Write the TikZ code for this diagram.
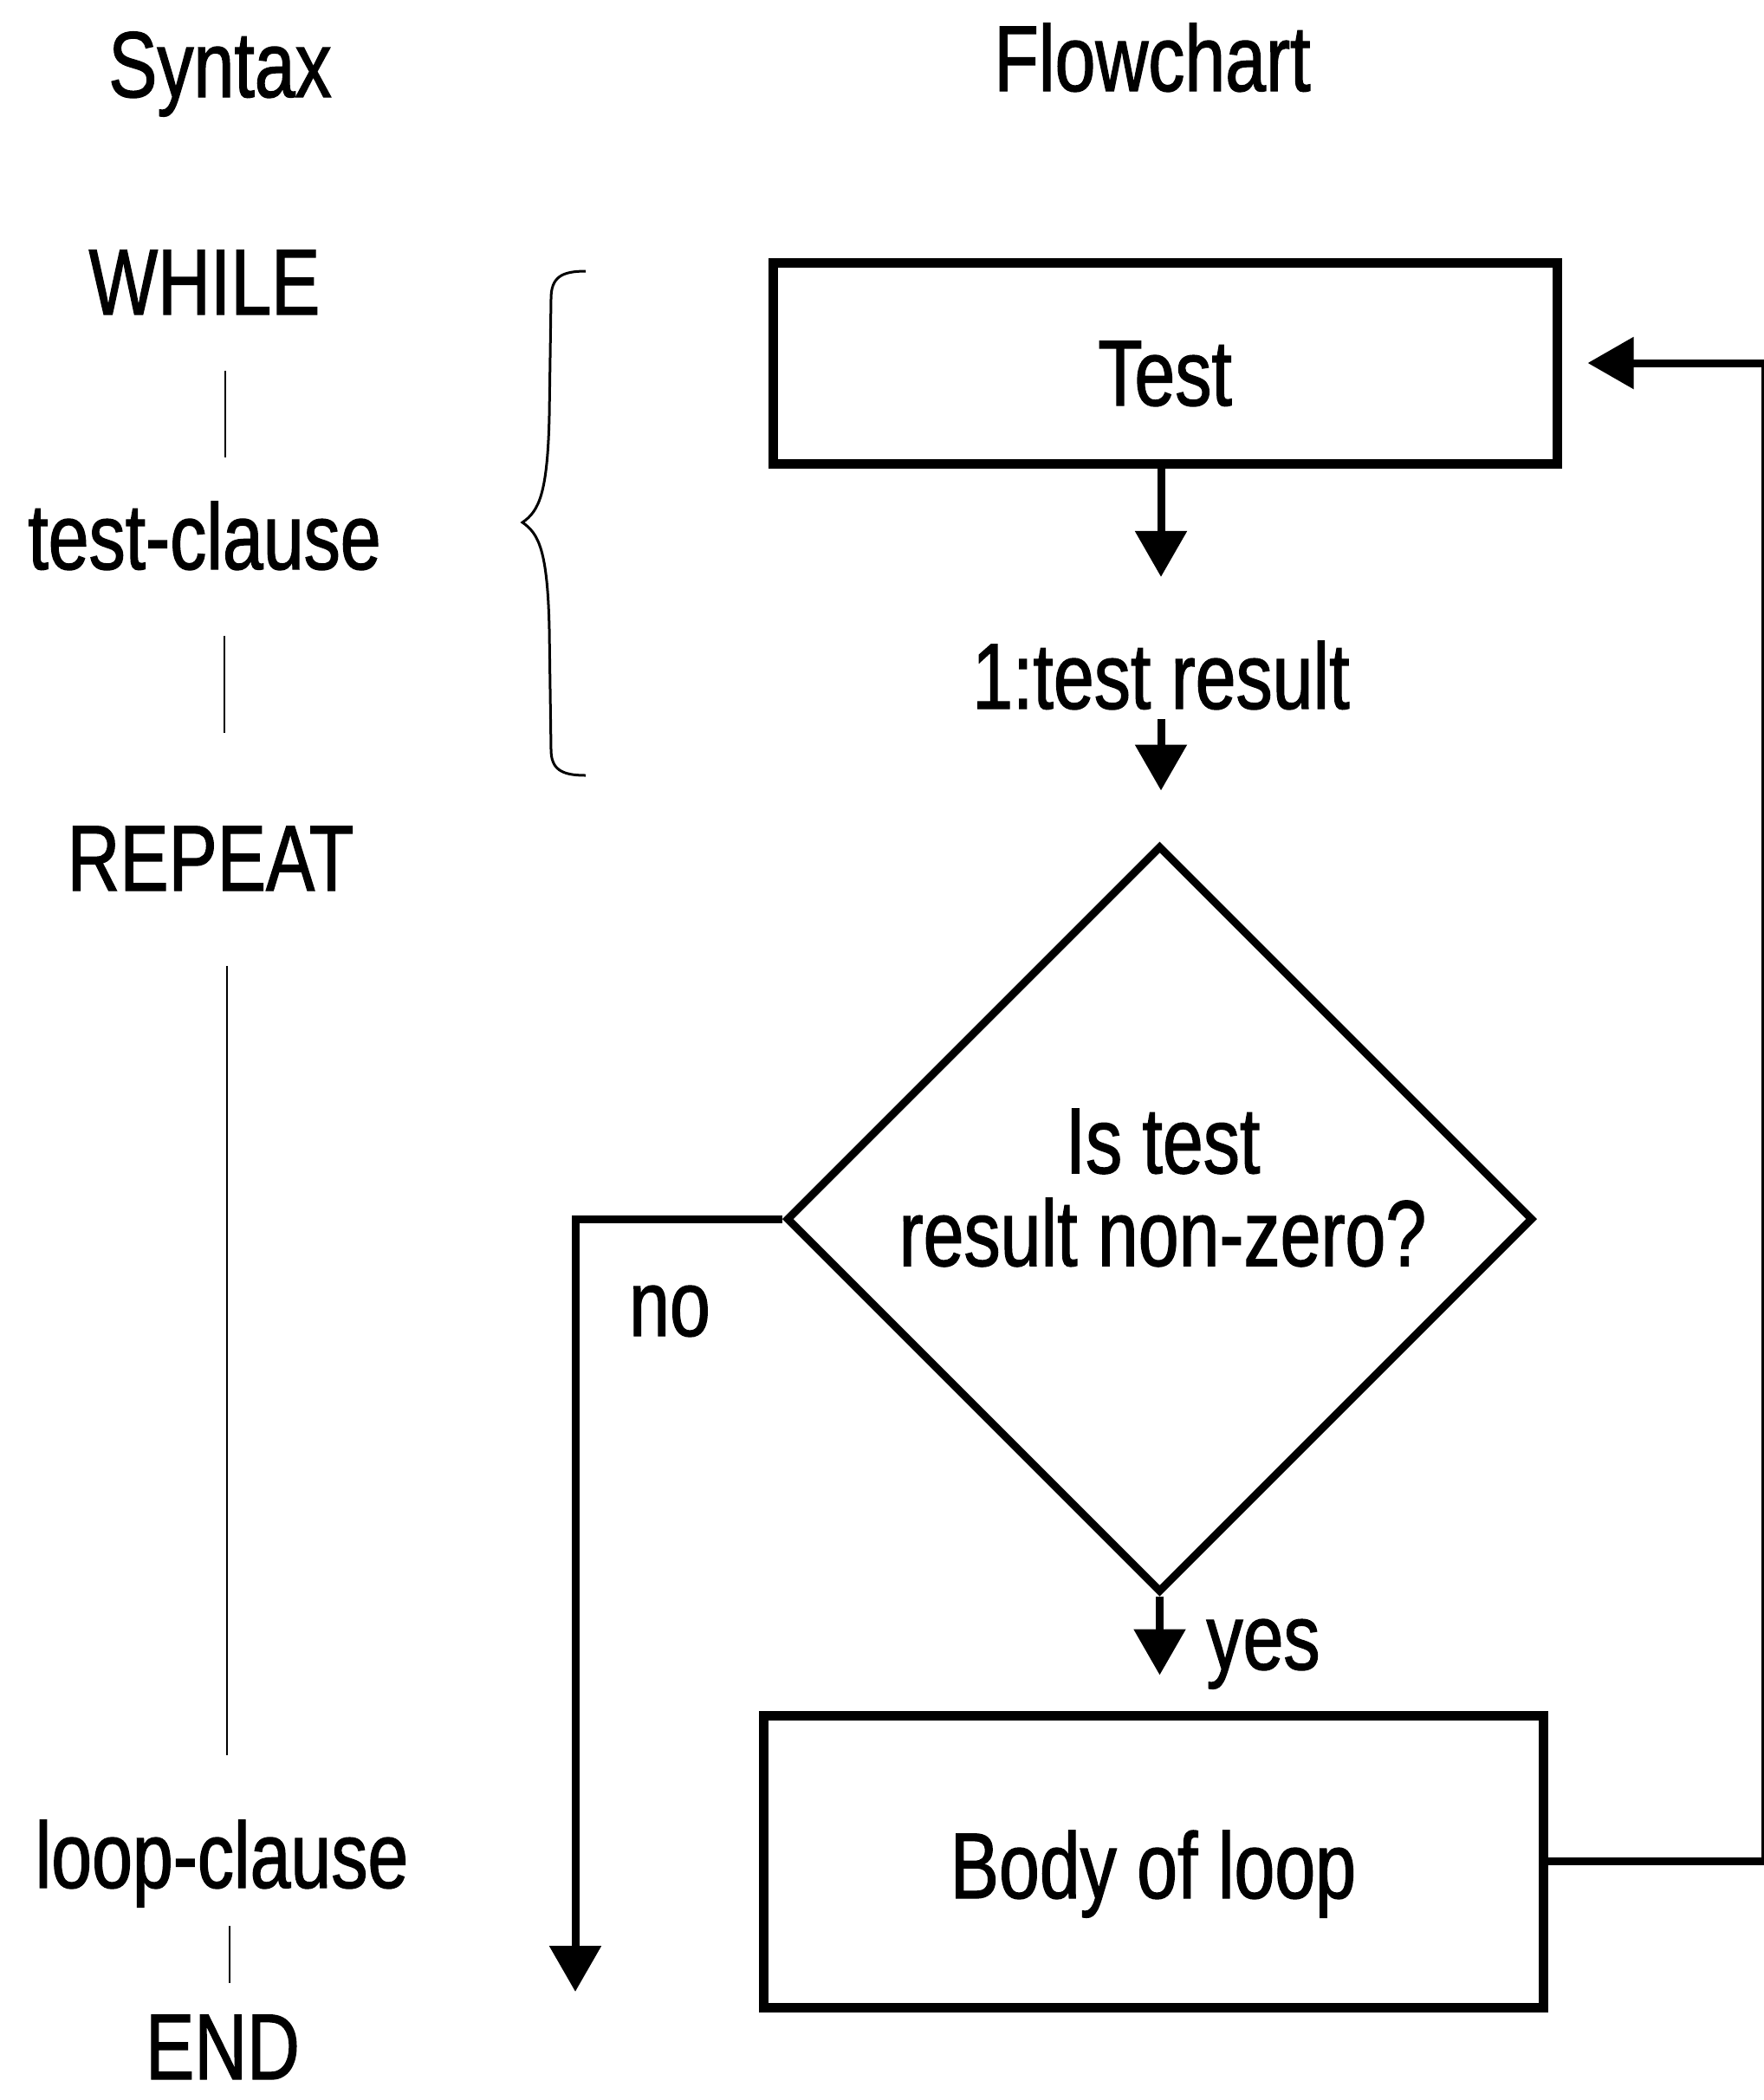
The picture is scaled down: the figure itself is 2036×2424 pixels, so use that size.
\documentclass[tikz,border=0pt]{standalone}
\usepackage{fontspec}
\setmainfont{Liberation Sans}[FakeStretch=0.78,FakeBold=1.2]
\usetikzlibrary{arrows.meta,calc,shapes.geometric}
\begin{document}
\begin{tikzpicture}[x=0.25pt,y=-0.25pt,
  lbl/.style={inner sep=0pt, font=\fontsize{27pt}{26.75pt}\selectfont},
  kw/.style={lbl, anchor=base},
  procbox/.style={draw, rectangle, line width=2.75pt, inner sep=0pt, text depth=0pt,
    font=\fontsize{27pt}{26.75pt}\selectfont},
  decision/.style={draw, diamond, aspect=1, line width=2.25pt, inner sep=0pt,
    minimum width=215.5pt, minimum height=215.5pt},
  arr/.style={line width=2.25pt, -{Triangle[length=13.25pt,width=14.5pt]}},
  syn/.style={line width=0.6pt},
  bracestyle/.style={line width=0.75pt}]
\useasboundingbox (0,0) rectangle (2036,2424);

% headers
\node[kw] (hsyn) at (254,112) {Syntax};
\node[kw] (hflow) at (1330,105) {Flowchart};

% syntax column
\node[kw] (while) at (236,363) {WHILE};
\node[kw] (tclause) at (236,657) {test-clause};
\node[kw] (repeat) at (243,1028) {REPEAT};
\node[kw] (lclause) at (256,2179) {loop-clause};
\node[kw] (endk) at (257,2400) {END};
\coordinate (sx) at (262,0);

\draw[syn] ($(while.south -| sx)+(-2,64)$) -- ($(tclause.north -| sx)+(-2,-50)$);
\draw[syn] ($(tclause.south -| sx)+(-3,75)$) -- ($(repeat.north -| sx)+(-3,-107)$);
\draw[syn] ($(repeat.south -| sx)+(0,86)$) -- ($(lclause.north -| sx)+(0,-74)$);
\draw[syn] ($(lclause.south -| sx)+(3,21)$) -- ($(endk.north -| sx)+(3,-36)$);

% brace
\draw[bracestyle] (676,313) .. controls (648,313) and (636,320) .. (636,345)
  -- (634,480) .. controls (632,570) and (622,590) .. (603,603)
  .. controls (622,616) and (632,636) .. (634,726)
  -- (636,865) .. controls (636,888) and (648,895) .. (676,895);

% flowchart
\node[procbox, minimum width=226.25pt, minimum height=58pt, text height=24.5pt] (test) at (1344.5,419) {Test};
\node[kw] (tr) at (1340,818) {1:test result};
\node[decision] (dec) at (1338.5,1407) {};
\node[lbl, align=center] (dtxt) at (1342,1371) {Is test\\result non-zero?};
\node[procbox, minimum width=225pt, minimum height=84.25pt, text height=21.25pt] (body) at (1331,2148.5) {Body of loop};
\node[kw] (nolbl) at (773,1542) {no};
\node[kw] (yeslbl) at (1458,1927) {yes};

\coordinate (noend) at (664,2299);
\coordinate (rx) at (2037,0);

\draw[arr, shorten >=18.25pt] (test.south -| tr.north) -- (tr.north);
\draw[arr, shorten <=2.5pt, shorten >=14.75pt] (tr.south) -- (tr.south |- dec.north);
\draw[arr] (dec.west) -| (noend);
\draw[arr, shorten >=10.25pt] (dec.south) -- (dec.south |- body.north);
\draw[arr, shorten >=7.5pt] (body.east) -- (body.east -| rx) |- (test.east);
\end{tikzpicture}
\end{document}
